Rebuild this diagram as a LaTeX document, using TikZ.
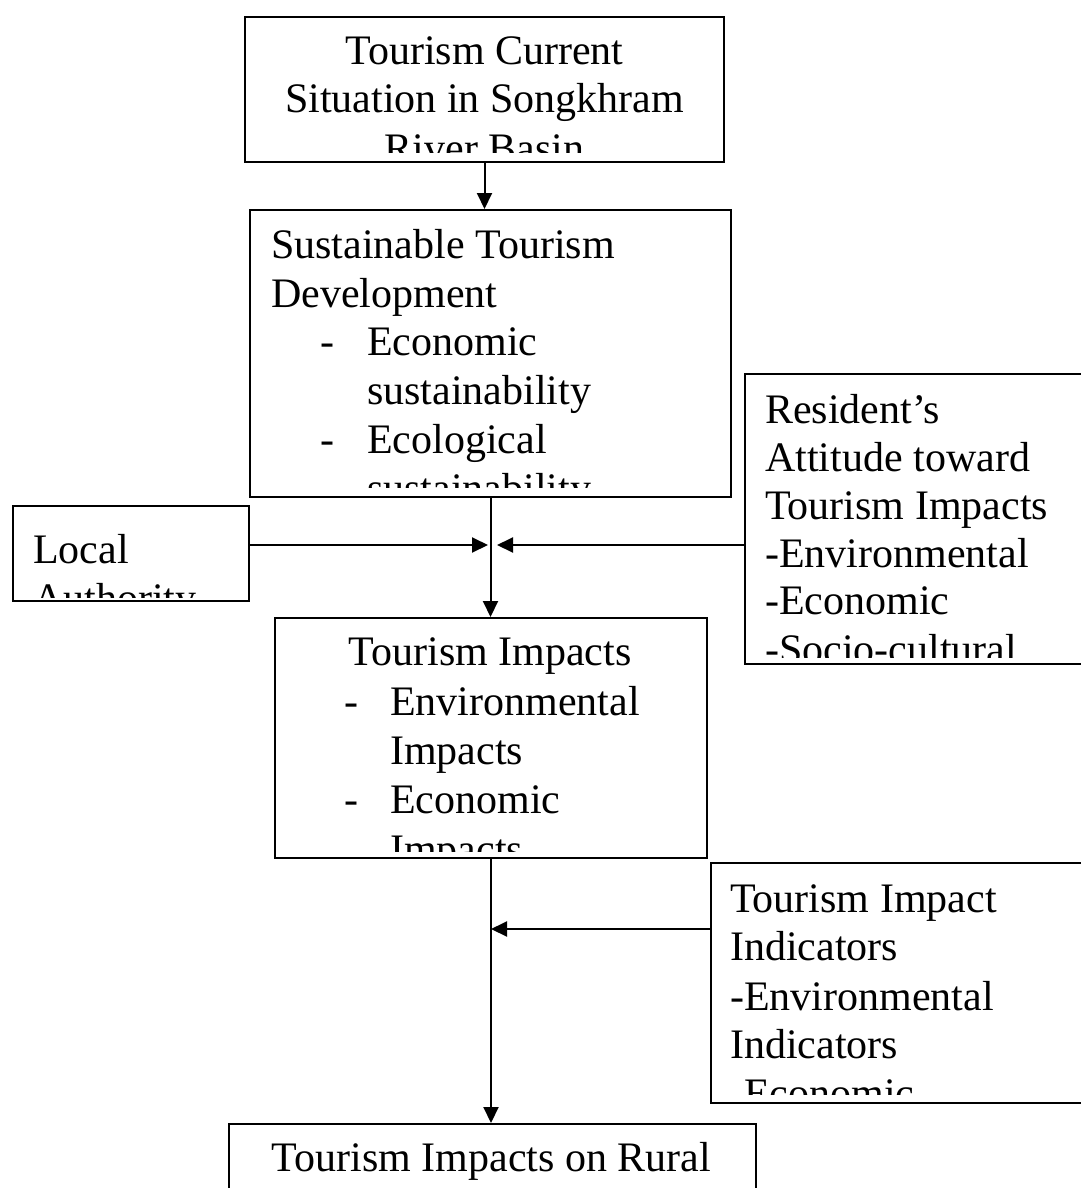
\documentclass[tikz,border=0pt]{standalone}
\usepackage{fontspec}
\setmainfont{Liberation Serif}
\usetikzlibrary{arrows.meta}
\begin{document}
\begin{tikzpicture}[x=1pt,y=-1pt,
  box/.style={draw, line width=2pt, inner sep=0pt, anchor=north west},
  txt/.style={anchor=base west, inner sep=0pt, font=\fontsize{42}{48}\selectfont},
  ctxt/.style={anchor=base, inner sep=0pt, font=\fontsize{42}{48}\selectfont},
  flow/.style={line width=2pt, -{Triangle[length=16pt,width=15pt]}}]
\useasboundingbox (0,0) rectangle (1080,1188);

% Boxes
\node[box, minimum width=479pt, minimum height=145pt] (sit) at (244,16) {};
\node[box, minimum width=481pt, minimum height=287pt] (sdev) at (249,209) {};
\node[box, minimum width=236pt, minimum height=95pt] (local) at (12,505) {};
\node[box, minimum width=345pt, minimum height=290pt] (res) at (744,373) {};
\node[box, minimum width=432pt, minimum height=240pt] (imp) at (274,617) {};
\node[box, minimum width=380pt, minimum height=240pt] (ind) at (710,862) {};
\node[box, minimum width=527pt, minimum height=100pt] (fin) at (228,1123) {};

% Box texts, cut off at the lower edge of each box
\begin{scope}
\clip (sit.north west) rectangle ([yshift=11pt]sit.south east);
\node[ctxt] (sitA) at (484.5,65) {Tourism Current};
\node[ctxt] (sitB) at (484.5,113) {Situation in Songkhram};
\node[ctxt] (sitC) at (484.5,162) {River Basin};
\end{scope}

\begin{scope}
\clip (sdev.north west) rectangle ([yshift=11pt]sdev.south east);
\node[txt] (sdA) at (271,258) {Sustainable Tourism};
\node[txt] (sdB) at (271,307) {Development};
\node[txt] (sdC) at (320,355) {-};
\node[txt] (sdD) at (367,355) {Economic};
\node[txt] (sdE) at (367,404) {sustainability};
\node[txt] (sdF) at (320,453) {-};
\node[txt] (sdG) at (367,453) {Ecological};
\node[txt] (sdH) at (367,502) {sustainability};
\end{scope}

\begin{scope}
\clip (local.north west) rectangle ([yshift=5pt]local.south east);
\node[txt] (loA) at (33,563) {Local};
\node[txt] (loB) at (33,612) {Authority};
\end{scope}

\begin{scope}
\clip (res.north west) rectangle ([yshift=8pt]res.south east);
\node[txt] (reA) at (765,423) {Resident’s};
\node[txt] (reB) at (765,471) {Attitude toward};
\node[txt] (reC) at (765,519) {Tourism Impacts};
\node[txt] (reD) at (765,567) {-Environmental};
\node[txt] (reE) at (765,614) {-Economic};
\node[txt] (reF) at (765,663) {-Socio-cultural};
\end{scope}

\begin{scope}
\clip (imp.north west) rectangle ([yshift=8pt]imp.south east);
\node[ctxt] (imA) at (490,665) {Tourism Impacts};
\node[txt] (imB) at (344,715) {-};
\node[txt] (imC) at (390,715) {Environmental};
\node[txt] (imD) at (390,764) {Impacts};
\node[txt] (imE) at (344,813) {-};
\node[txt] (imF) at (390,813) {Economic};
\node[txt] (imG) at (390,863) {Impacts};
\end{scope}

\begin{scope}
\clip (ind.north west) rectangle ([yshift=10pt]ind.south east);
\node[txt] (inA) at (730,912) {Tourism Impact};
\node[txt] (inB) at (730,960) {Indicators};
\node[txt] (inC) at (730,1010) {-Environmental};
\node[txt] (inD) at (730,1058) {Indicators};
\node[txt] (inE) at (730,1107) {-Economic};
\end{scope}

\node[ctxt] (fiA) at (491.5,1171) {Tourism Impacts on Rural};

% Connectors
\coordinate (jl) at (488,545);
\coordinate (jr) at (497,545);
\coordinate (ji) at (491,929);
\draw[flow] (sit.south) -- (sit.south |- sdev.north);
\draw[flow] (sdev.south) -- (sdev.south |- imp.north);
\draw[flow] (local.east |- jl) -- (jl);
\draw[flow] (res.west |- jr) -- (jr);
\draw[flow] (imp.south) -- (imp.south |- fin.north);
\draw[flow] (ind.west |- ji) -- (ji);
\end{tikzpicture}
\end{document}
